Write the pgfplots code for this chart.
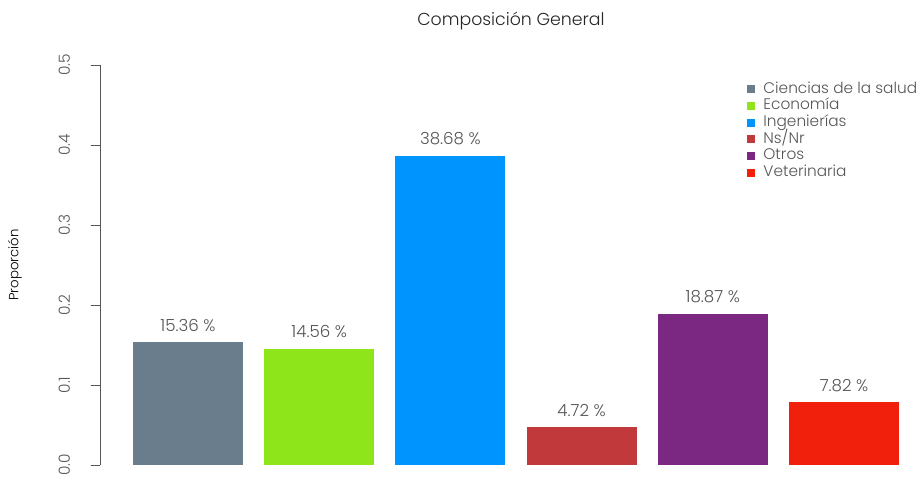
\documentclass[border=0pt]{standalone}
\usepackage{fontspec}
\setmainfont{Poppins Light}
\usepackage{pgfplots}
\pgfplotsset{compat=1.18}

\definecolor{salud}{HTML}{697D8C}
\definecolor{econ}{HTML}{8EE51A}
\definecolor{ing}{HTML}{0094FF}
\definecolor{nsnr}{HTML}{C2393B}
\definecolor{otros}{HTML}{7A2882}
\definecolor{vet}{HTML}{F0200D}
\definecolor{txt}{HTML}{555555}

\begin{document}
\begin{tikzpicture}
\useasboundingbox (0,0) rectangle (692.25pt,357pt);
\begin{axis}[
    at={(75pt,8.25pt)}, anchor=south west,
    scale only axis,
    width=607.5pt, height=300pt,
    xmin=-0.671, xmax=5.503,
    ymin=0, ymax=0.5,
    axis x line=none,
    axis y line*=left,
    y axis line style={color=txt},
    ytick={0,0.1,0.2,0.3,0.4,0.5},
    yticklabel style={rotate=90, anchor=south, color=txt, font=\fontsize{11.5}{13}\selectfont},
    yticklabel shift=12pt,
    /pgf/number format/assume math mode=true,
    yticklabel={\pgfmathprintnumber[fixed,fixed zerofill,precision=1]{\tick}},
    tick align=outside,
    major tick length=7pt,
    tick style={color=txt},
    ylabel={Proporción},
    ylabel style={color=txt, font=\fontsize{11}{13}\selectfont},
    every axis y label/.style={at={(axis description cs:-0.105,0.5)}, rotate=90, anchor=center},
    ybar, bar width=0.838, bar shift=0pt,
    point meta={y*100},
    nodes near coords={\pgfmathprintnumber[fixed,fixed zerofill,precision=2]{\pgfplotspointmeta}~\%},
    every node near coord/.append style={anchor=center, yshift=12.75pt, color=txt, font=\fontsize{12.5}{14}\selectfont},
    legend cell align=left,
    legend image code/.code={\fill[#1,draw=none] (0pt,-3pt) rectangle (6pt,3pt);},
    legend style={at={(0.793,0.9675)}, anchor=north west, draw=none, fill=none,
        font=\fontsize{11.5}{13}\selectfont, text=txt, column sep=6pt, row sep=0pt,
        nodes={inner sep=0.6pt, text height=8.6pt, text depth=2.7pt}},
]
\addplot[fill=salud, draw=none] coordinates {(0,0.1536)};
\addlegendentry{Ciencias de la salud}
\addplot[fill=econ, draw=none] coordinates {(1,0.1456)};
\addlegendentry{Economía}
\addplot[fill=ing, draw=none] coordinates {(2,0.3868)};
\addlegendentry{Ingenierías}
\addplot[fill=nsnr, draw=none] coordinates {(3,0.0472)};
\addlegendentry{Ns/Nr}
\addplot[fill=otros, draw=none] coordinates {(4,0.1887)};
\addlegendentry{Otros}
\addplot[fill=vet, draw=none] coordinates {(5,0.0782)};
\addlegendentry{Veterinaria}
\end{axis}
\node[font=\fontsize{13}{15}\selectfont, color=black!85] at (383.25pt,341pt) {Composición General};
\end{tikzpicture}
\end{document}
